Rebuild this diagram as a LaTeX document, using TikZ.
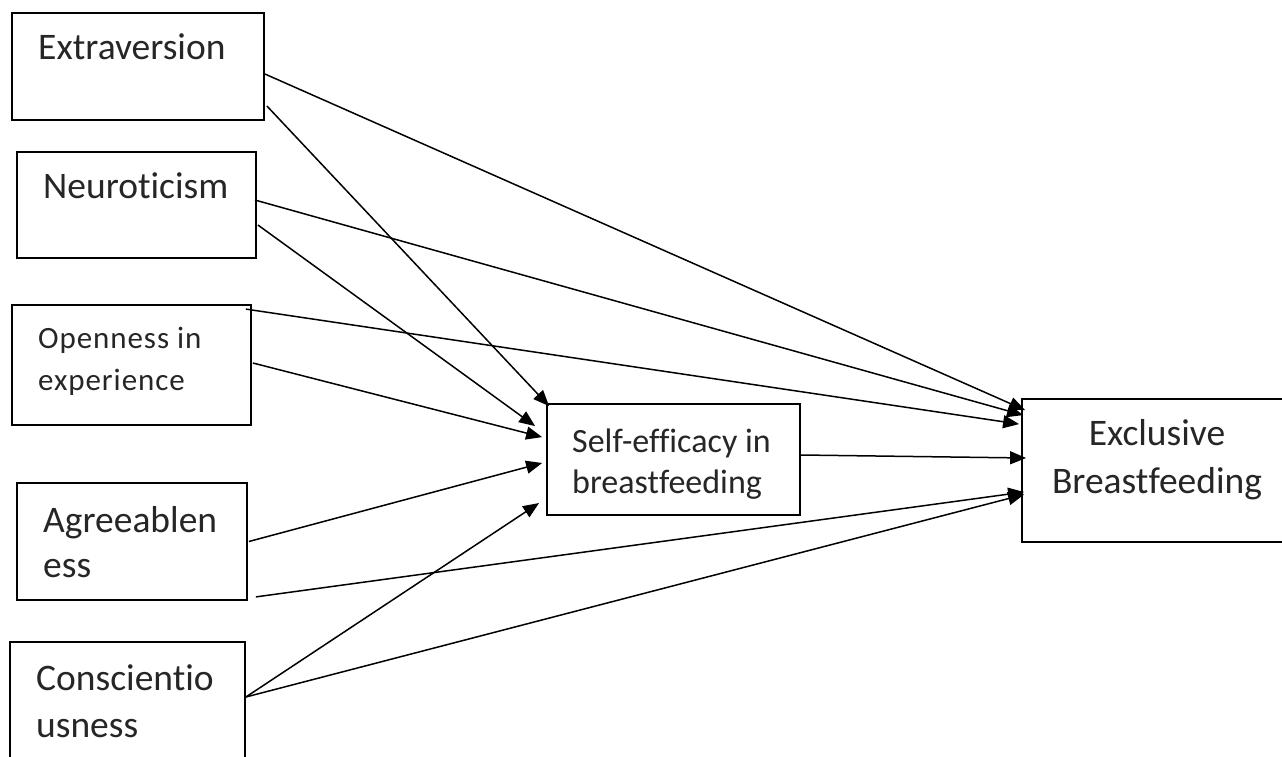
\documentclass[tikz,border=0pt]{standalone}
\usepackage{fontspec}
\setmainfont{Carlito}[Ligatures=NoCommon]
\usetikzlibrary{arrows.meta, positioning, calc}
\tikzset{
  box/.style={draw, line width=1.8pt, inner sep=0pt},
  lbl/.style={inner sep=0pt, align=left, text=black!85},
  arr/.style={-{Triangle[length=16pt, width=13pt]}, line width=1.5pt},
}

\begin{document}
\begin{tikzpicture}[x=1pt, y=-1pt]
    \clip (0,0) rectangle (1282,757);
    \fill[white] (0,0) rectangle (1282,757);
    % predictor boxes
    \node[box, minimum width=252pt, minimum height=107pt] (ext) at (138,66.5) {};
    \node[box, minimum width=239pt, minimum height=106pt] (neur) at (136.5,205) {};
    \node[box, minimum width=239pt, minimum height=120pt] (open) at (131.5,365) {};
    \node[box, minimum width=230pt, minimum height=117pt] (agree) at (132,541.5) {};
    \node[box, minimum width=235pt, minimum height=128pt] (consc) at (127.5,706) {};
    % mediator and outcome
    \node[box, minimum width=253pt, minimum height=111pt] (self) at (673.5,459.5) {};
    \node[box, minimum width=268pt, minimum height=143pt] (excl) at (1156,470.5) {};
    % labels (base anchor sits on the last line)
    \node[lbl, anchor=base west, font=\fontsize{37.5}{42}\selectfont] (extT) at (38,60) {Extraversion};
    \node[lbl, anchor=base west, font=\fontsize{37.5}{42}\selectfont] (neurT) at (43,198) {Neuroticism};
    \node[lbl, anchor=base west, font=\fontsize{31}{42}\selectfont\addfontfeature{LetterSpace=3}] (openT) at (38,390) {Openness in\\experience};
    \node[lbl, anchor=base west, font=\fontsize{37.5}{45}\selectfont] (agreeT) at (43,577) {Agreeablen\\ess};
    \node[lbl, anchor=base west, font=\fontsize{37.5}{47}\selectfont] (conscT) at (36,737) {Conscientio\\usness};
    \node[lbl, anchor=base west, font=\fontsize{34}{41}\selectfont] (selfT) at (572,493) {Self-efficacy in\\breastfeeding};
    \node[lbl, align=center, anchor=base, font=\fontsize{37.5}{48}\selectfont] (exclT) at (1157,493) {Exclusive\\Breastfeeding};
    % paths to exclusive breastfeeding
    \draw[arr] ([yshift=-7.5pt]ext.east) -- ([xshift=4pt,yshift=-12pt]excl.north west);
    \draw[arr] ([xshift=-2pt,yshift=5pt]neur.east) -- ([xshift=2pt,yshift=-17pt]excl.north west);
    \draw[arr] ([xshift=-6pt,yshift=-5pt]open.north east) -- ([xshift=-2pt,yshift=-26pt]excl.north west);
    \draw[arr] ([xshift=8pt,yshift=4pt]agree.south east) -- ([xshift=3pt,yshift=-21.5pt]excl.west);
    \draw[arr] ([yshift=9pt]consc.east) -- ([xshift=3pt,yshift=-24pt]excl.west);
    \draw[arr] ([yshift=4.5pt]self.east) -- ([xshift=5pt,yshift=12.5pt]excl.west);
    % paths to self-efficacy
    \draw[arr] ([xshift=2pt,yshift=-39.5pt]ext.east) -- ([xshift=3pt,yshift=-3pt]self.north west);
    \draw[arr] ([xshift=1pt,yshift=-20pt]neur.east) -- ([xshift=-11pt,yshift=-23pt]self.north west);
    \draw[arr] ([xshift=1pt,yshift=2pt]open.east) -- ([xshift=-4pt,yshift=-34pt]self.north west);
    \draw[arr] ([xshift=1pt]agree.east) -- ([xshift=-4pt,yshift=-3.5pt]self.west);
    \draw[arr] ([yshift=9pt]consc.east) -- ([xshift=-7pt,yshift=-43.5pt]self.west);
\end{tikzpicture}
\end{document}
